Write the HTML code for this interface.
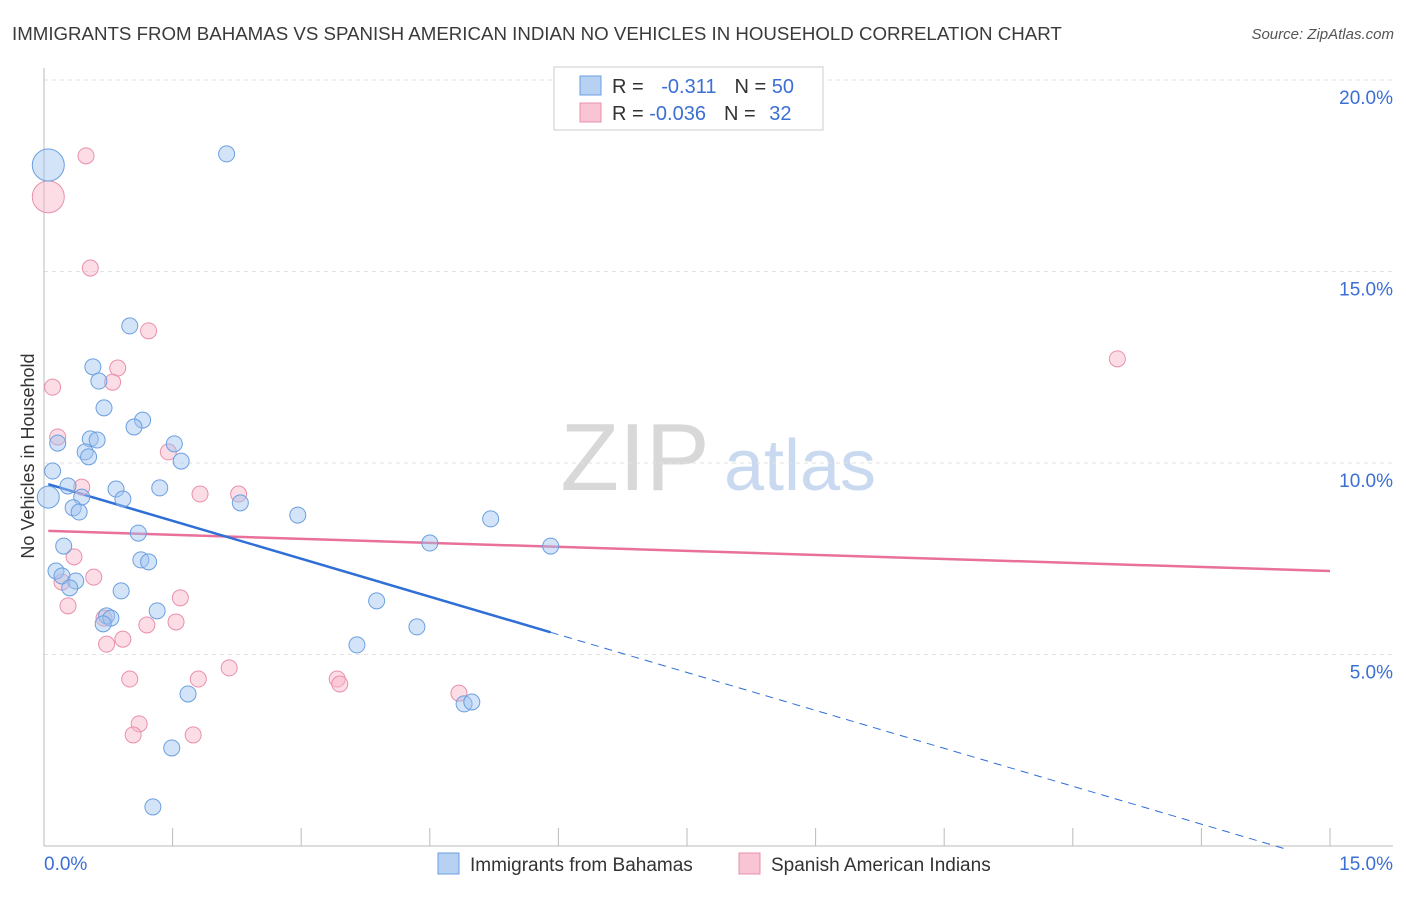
<!DOCTYPE html>
<html><head><meta charset="utf-8"><style>
body{margin:0;background:#fff;font-family:"Liberation Sans",sans-serif;}
svg text{font-family:"Liberation Sans",sans-serif;}
</style></head><body>
<svg id="chart" width="1406" height="892">
<text x="12" y="40" font-size="18.7" fill="#3a3a3a">IMMIGRANTS FROM BAHAMAS VS SPANISH AMERICAN INDIAN NO VEHICLES IN HOUSEHOLD CORRELATION CHART</text>
<text x="1394" y="39" font-size="15" fill="#555" font-style="italic" text-anchor="end">Source: ZipAtlas.com</text>
<text x="0" y="0" transform="translate(34,456) rotate(-90)" font-size="18" fill="#333" text-anchor="middle">No Vehicles in Household</text>
<g><text x="635" y="490" font-size="96" fill="#d8d8d8" font-family="Liberation Serif" text-anchor="middle">ZIP</text><text x="800" y="490" font-size="72" fill="#c9d9ef" text-anchor="middle">atlas</text></g>
<g id="grid"></g><g id="axes"></g><g id="lines"></g><g id="pts"></g>
<g>
<rect x="554" y="67" width="269" height="63" fill="#fff" stroke="#ccc"/>
<rect x="580" y="76" width="21" height="19" fill="#b7d1f3" stroke="#6a9fe0"/>
<rect x="580" y="103" width="21" height="19" fill="#f9c4d3" stroke="#e890aa"/>
<text x="612" y="93" font-size="20" fill="#333">R = <tspan fill="#3b6fd4" dx="12">-0.311</tspan><tspan fill="#333" dx="18">N = </tspan><tspan fill="#3b6fd4">50</tspan></text>
<text x="612" y="120" font-size="20" fill="#333">R = <tspan fill="#3b6fd4">-0.036</tspan><tspan fill="#333" dx="18">N = </tspan><tspan fill="#3b6fd4" dx="8">32</tspan></text>
</g>
<g>
<rect x="438" y="853" width="21" height="21" fill="#b7d1f3" stroke="#6a9fe0"/>
<text x="470" y="871" font-size="19" fill="#333">Immigrants from Bahamas</text>
<rect x="739" y="853" width="21" height="21" fill="#f9c4d3" stroke="#e890aa"/>
<text x="771" y="871" font-size="19" fill="#333">Spanish American Indians</text>
</g>
</svg>
<script>
const yTicks=[5,10,15,20];
const xTickLabels=["0.0%","15.0%"];
const blueX=[0.05,2.13,1.00,0.57,0.64,0.70,1.15,1.05,0.54,0.62,0.16,1.52,0.48,0.52,1.60,0.10,0.28,0.84,1.35,0.44,0.92,0.05,2.29,0.34,0.41,2.96,5.21,1.10,0.23,4.50,5.91,1.13,1.22,0.14,0.21,0.37,0.30,0.90,3.88,1.32,0.73,0.78,0.69,4.35,3.65,1.68,4.90,4.99,1.49,1.27];
const blueY=[17.78,18.07,13.58,12.51,12.14,11.44,11.12,10.94,10.63,10.60,10.52,10.50,10.29,10.16,10.05,9.79,9.40,9.32,9.35,9.11,9.06,9.11,8.96,8.83,8.72,8.64,8.54,8.17,7.83,7.91,7.83,7.47,7.42,7.18,7.05,6.92,6.74,6.66,6.40,6.14,6.01,5.95,5.80,5.72,5.25,3.97,3.71,3.76,2.56,1.02];
const blueBig=[0];
const blueMid=[21];
const pinkX=[0.05,0.49,0.54,1.22,12.52,0.10,0.86,0.80,0.16,1.45,0.44,1.82,2.27,0.35,0.58,0.21,0.28,1.59,0.70,1.54,1.20,0.92,0.73,2.16,1.00,1.80,3.42,3.45,4.84,1.11,1.04,1.74];
const pinkY=[16.95,18.02,15.09,13.45,12.72,11.98,12.48,12.11,10.68,10.29,9.37,9.19,9.19,7.55,7.02,6.89,6.27,6.48,5.95,5.85,5.77,5.40,5.27,4.65,4.36,4.36,4.36,4.23,3.99,3.19,2.90,2.90];
const pinkBig=[0];
const pinkMid=[];
const blueTrend=[9.48,-0.66];
const pinkTrend=[8.23,-0.07];
const X0=44,X1=1330,XMAX=15,YB=846,YPX=38.3;
const sx=v=>X0+v*(X1-X0)/XMAX, sy=v=>YB-v*YPX;
const NS="http://www.w3.org/2000/svg";
function mk(p,t,a){const e=document.createElementNS(NS,t);for(const k in a)e.setAttribute(k,a[k]);p.appendChild(e);return e;}
const grid=document.getElementById('grid'),axes=document.getElementById('axes'),lines=document.getElementById('lines'),pts=document.getElementById('pts');
yTicks.forEach(t=>{
 const l=mk(grid,'line',{x1:X0,x2:1393,y1:sy(t),y2:sy(t),stroke:'#e2e2e2','stroke-dasharray':'4,4'});
 
 
 const tx=mk(axes,'text',{x:1393,y:sy(t)+24,'text-anchor':'end','font-size':19,fill:'#3b6fd4'});
 tx.textContent=t.toFixed(1)+'%';
 
 
});
const ya=mk(axes,'line',{x1:X0,x2:X0,y1:68,y2:YB,stroke:'#bbb'});


const xa=mk(axes,'line',{x1:X0,x2:1393,y1:YB,y2:YB,stroke:'#bbb'});


for(let i=0;i<=10;i++){const v=i*1.5;const t=mk(axes,'line',{x1:sx(v),x2:sx(v),y1:828,y2:YB,stroke:'#bbb'});
 
 }
xTickLabels.forEach((s,i)=>{const t=mk(axes,'text',{x:i?1393:44,y:870,'text-anchor':i?'end':'start','font-size':19,fill:'#3b6fd4'});t.textContent=s;
 
 });
function pl(tr,xa_,xb,attrs,name){const l=mk(lines,'line',Object.assign({x1:sx(xa_),y1:sy(tr[0]+tr[1]*xa_),x2:sx(xb),y2:sy(tr[0]+tr[1]*xb)},attrs));
 
 }
pl(pinkTrend,0.05,15,{stroke:'#e8709a','stroke-width':2.5},'trend-line-spanish');
pl(blueTrend,0.05,5.91,{stroke:'#2f6fd6','stroke-width':2.5},'trend-line-bahamas');
pl(blueTrend,5.91,14.5,{stroke:'#2f6fd6','stroke-width':1,'stroke-dasharray':'8,6'},'trend-line-bahamas-extrapolated');
function dots(X,Y,big,mid,fill,stroke,name){X.forEach((x,i)=>{const r=big.includes(i)?16:(mid.includes(i)?11:8);const c=mk(pts,'circle',{cx:sx(x),cy:sy(Y[i]),r:r,fill:fill,stroke:stroke,'stroke-width':1});
 
 });}
dots(pinkX,pinkY,pinkBig,pinkMid,'rgba(248,180,200,0.45)','#e890aa','point-spanish');
dots(blueX,blueY,blueBig,blueMid,'rgba(160,196,240,0.45)','#6a9fe0','point-bahamas');
</script>
</body></html>
